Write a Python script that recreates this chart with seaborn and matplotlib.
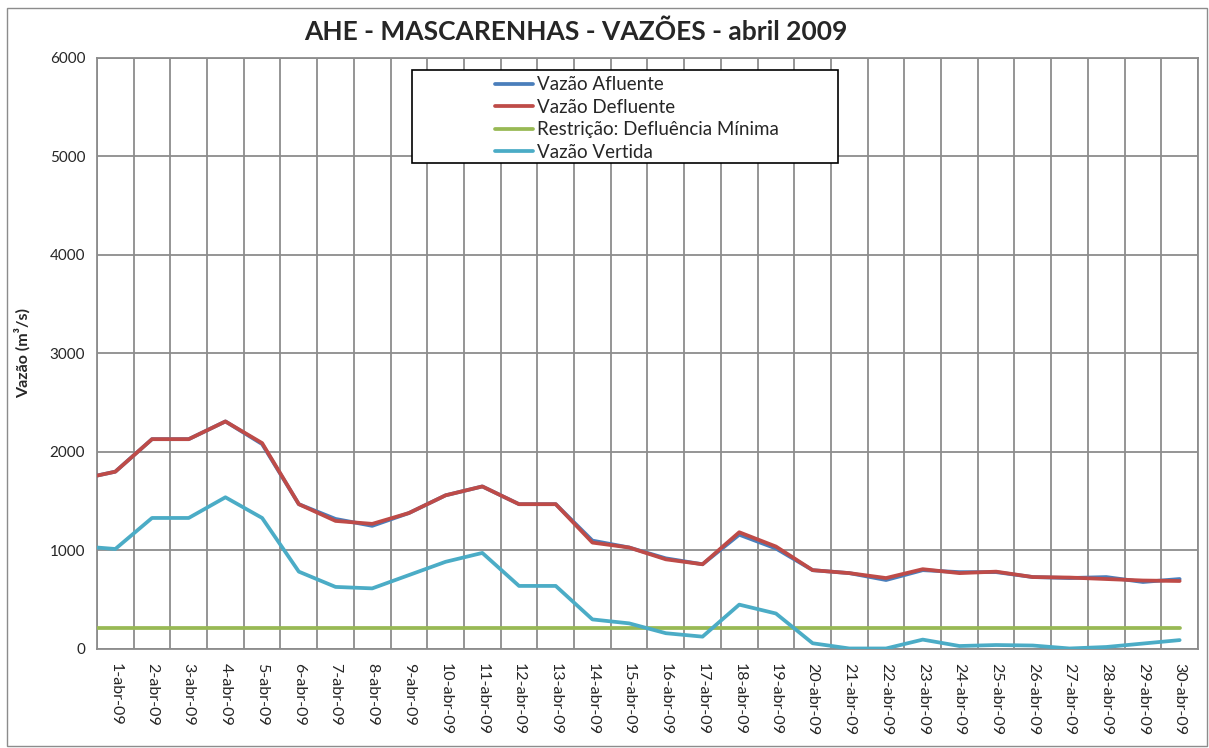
import pandas as pd
import matplotlib
matplotlib.use("Agg")
import matplotlib.pyplot as plt
import seaborn as sns
from matplotlib.patches import Rectangle

sns.set_style("white")
plt.rcParams['font.family'] = ['Lato', 'DejaVu Sans']

# posições: 0.5 = início do período, 1..30 = dias de abril
pos = [0.5] + list(range(1, 31))
dias = [f"{d}-abr-09" for d in range(1, 31)]

afluente = [1760, 1800, 2130, 2130, 2310, 2080, 1470, 1320, 1250, 1380, 1560,
            1650, 1470, 1470, 1100, 1030, 920, 860, 1160, 1020, 800,
            770, 700, 800, 780, 780, 730, 720, 730, 680, 710]
defluente = [1760, 1800, 2130, 2130, 2310, 2090, 1470, 1300, 1270, 1380, 1560,
             1650, 1470, 1470, 1080, 1030, 910, 860, 1185, 1040, 800,
             770, 720, 810, 770, 785, 730, 725, 710, 695, 690]
restricao = [210] * 31
vertida = [1030, 1015, 1330, 1330, 1540, 1330, 785, 630, 615, 750, 885,
           975, 640, 640, 300, 260, 160, 125, 450, 360, 58,
           5, 5, 95, 30, 40, 35, 5, 20, 55, 90]

series = {
    "Vazão Afluente": afluente,
    "Vazão Defluente": defluente,
    "Restrição: Defluência Mínima": restricao,
    "Vazão Vertida": vertida,
}
cores = ["#4A7EBB", "#BE4B48", "#98B954", "#4BACC6"]

df = pd.concat([pd.DataFrame({"dia": pos, "vazao": v, "serie": k})
                for k, v in series.items()], ignore_index=True)

fig = plt.figure(figsize=(12.09, 7.48), dpi=100)
ax = fig.add_axes([0.0802, 0.1324, 0.9107, 0.7901])

sns.lineplot(data=df, x="dia", y="vazao", hue="serie", palette=cores,
             linewidth=2.7, ax=ax, legend=False, zorder=3)

ax.set_xlim(0.5, 30.5)
ax.set_ylim(0, 6000)
ax.set_yticks(range(0, 6001, 1000))
ax.set_xticks([x + 0.5 for x in range(0, 31)])
ax.set_xticklabels([])
ax.set_xticks(range(1, 31), minor=True)
ax.set_xticklabels(dias, minor=True, rotation=270, fontsize=11.5)
ax.tick_params(axis="x", which="major", length=5, color="#868686", width=1.2, direction="out")
ax.tick_params(axis="x", which="minor", length=0, pad=10)
ax.tick_params(axis="y", length=5, color="#868686", width=1.2, direction="out", labelsize=11)
ax.grid(True, which="major", color="#8C8C8C", linewidth=1.3)
for s in ax.spines.values():
    s.set_color("#8C8C8C")
    s.set_linewidth(1.3)
ax.set_xlabel("")
ax.set_ylabel("Vazão (m³/s)", fontsize=11.5, fontweight="bold", labelpad=14)

# legenda com caixa à moda do Excel
ax.add_patch(Rectangle((0.2861, 0.823), 0.3869, 0.157, transform=ax.transAxes,
                       facecolor="white", edgecolor="black", linewidth=1.2, zorder=4))
handles = [plt.Line2D([], [], color=c, linewidth=2.7) for c in cores]
leg = ax.legend(handles, list(series.keys()), loc="upper left",
                bbox_to_anchor=(0.355, 0.982), frameon=False, fontsize=13.5,
                handlelength=2.0, handletextpad=0.2, labelspacing=0.3,
                borderaxespad=0)
leg.set_zorder(5)

fig.text(0.4765, 0.957, "AHE - MASCARENHAS - VAZÕES - abril 2009", ha="center",
         va="center", fontsize=19, fontweight="bold")

fig.patches.append(Rectangle((0.006, 0.003), 0.992, 0.986, transform=fig.transFigure,
                             fill=False, edgecolor="#8C8C8C", linewidth=1))

fig.savefig("out.png", dpi=100)
